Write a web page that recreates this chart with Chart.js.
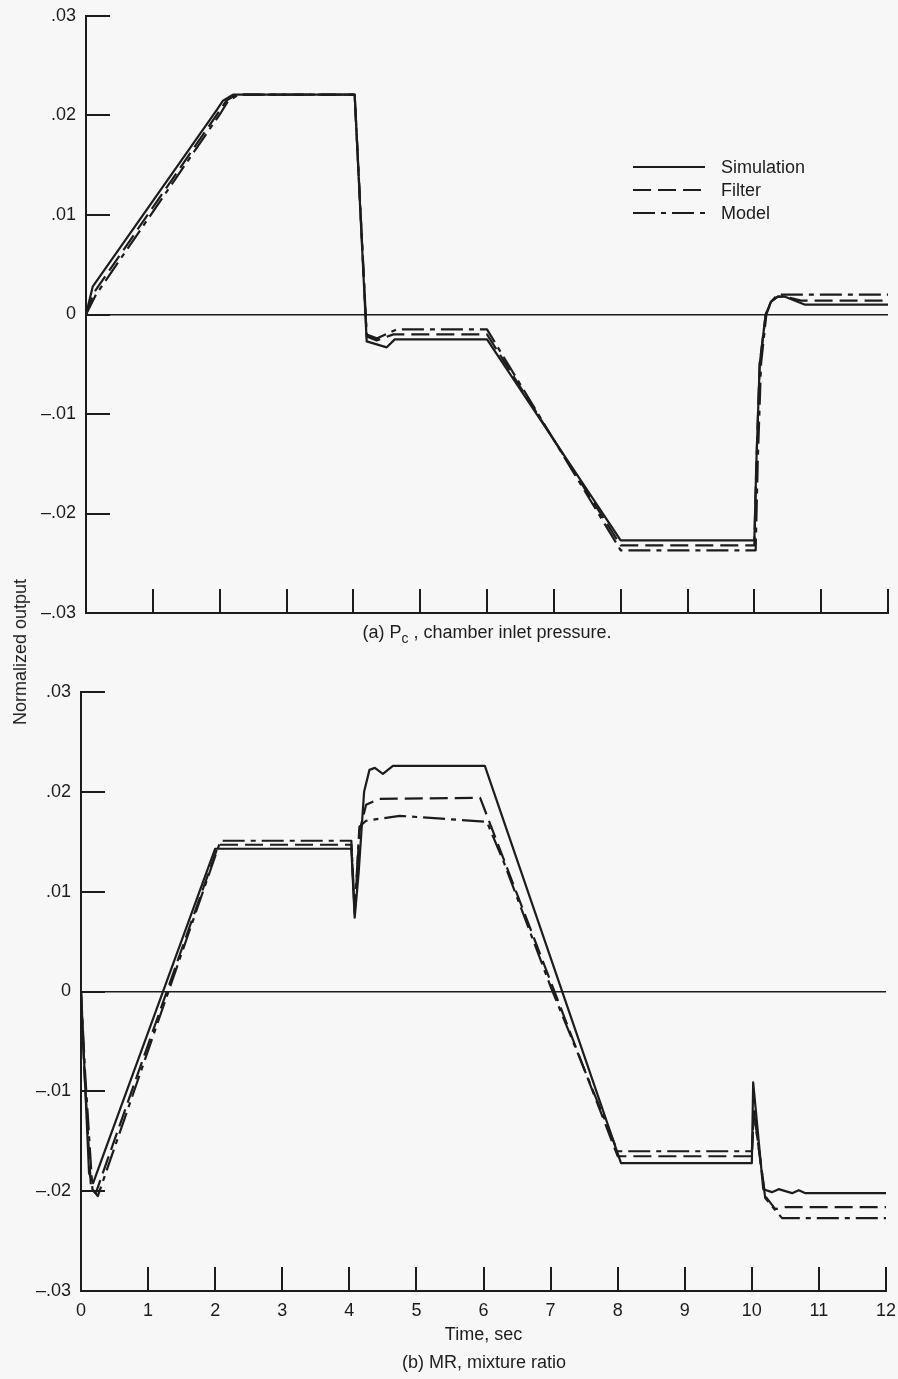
<!DOCTYPE html>
<html><head><meta charset="utf-8">
<script src="https://cdn.jsdelivr.net/npm/chart.js@4.4.0/dist/chart.umd.min.js"></script>
<style>
html,body{margin:0;padding:0;background:#f7f7f7;}
body{width:898px;height:1379px;position:relative;overflow:hidden;font-family:"Liberation Sans",Arial,Helvetica,sans-serif;color:#1e1e1e;}
canvas{position:absolute;left:0;}
#c1{top:0;}
#c2{top:650px;}
.txt{position:absolute;font-size:18px;white-space:nowrap;line-height:20px;}
.txt sub{font-size:14px;vertical-align:-5px;line-height:0;}
</style></head><body>
<canvas id="c1" width="898" height="650"></canvas>
<canvas id="c2" width="898" height="729"></canvas>
<div class="txt" id="ylab" style="left:20px;top:652px;transform:translate(-50%,-50%) rotate(-90deg);">Normalized output</div>
<div class="txt" id="capA" style="left:487px;top:632px;transform:translate(-50%,-50%);">(a) P<sub>c</sub> , chamber inlet pressure.</div>
<div class="txt" id="capB" style="left:484px;top:1362px;transform:translate(-50%,-50%);">(b) MR, mixture ratio</div>
<script>
// ---- axis ticks ----
const timeTicks = [0,1,2,3,4,5,6,7,8,9,10,11,12];
const yTickValues = [-0.03,-0.02,-0.01,0,0.01,0.02,0.03];
const yTickLabels = ['\u2013.03','\u2013.02','\u2013.01','0','.01','.02','.03'];
const seriesNames = ['Simulation','Filter','Model'];

// ---- (a) Pc, chamber inlet pressure ----
const pcSimT = [0,0.1,1.95,2.05,2.2,4.02,4.2,4.5,4.62,6.0,8.0,10.0,10.03,10.08,10.17,10.25,10.35,10.45,10.75,12];
const pcSimV = [0,0.0028,0.0205,0.0215,0.0221,0.0221,-0.0027,-0.0033,-0.0025,-0.0025,-0.0227,-0.0227,-0.015,-0.005,0,0.0013,0.0018,0.0018,0.0010,0.0010];
const pcFilT = [0,0.12,1.99,2.1,2.25,4.02,4.2,4.35,4.6,6.0,8.0,10.0,10.03,10.08,10.17,10.25,10.35,10.45,10.7,12];
const pcFilV = [0,0.0022,0.0204,0.0215,0.0221,0.0221,-0.0022,-0.0026,-0.0020,-0.0020,-0.0232,-0.0232,-0.015,-0.005,0,0.0013,0.0018,0.0018,0.0014,0.0014];
const pcModT = [0,0.15,2.02,2.12,2.28,4.02,4.2,4.35,4.65,6.0,8.0,10.02,10.05,10.1,10.18,10.25,10.35,12];
const pcModV = [0,0.0020,0.0203,0.0214,0.0221,0.0221,-0.0020,-0.0024,-0.0015,-0.0015,-0.0237,-0.0237,-0.015,-0.005,0,0.0013,0.0020,0.0020];

// ---- (b) MR, mixture ratio ----
const mrSimT = [0,0.04,0.12,0.18,2.0,4.03,4.08,4.14,4.22,4.3,4.38,4.5,4.65,6.02,8.05,10.0,10.02,10.17,10.3,10.4,10.6,10.7,10.8,12];
const mrSimV = [0,-0.006,-0.0182,-0.0192,0.0143,0.0143,0.0074,0.012,0.020,0.0222,0.0224,0.0218,0.0226,0.0226,-0.0172,-0.0172,-0.0091,-0.0198,-0.0201,-0.0198,-0.0202,-0.0199,-0.0202,-0.0202];
const mrFilT = [0,0.05,0.15,0.22,2.05,4.03,4.08,4.15,4.25,4.45,5.95,8.0,10.0,10.03,10.2,10.35,10.5,12];
const mrFilV = [0,-0.008,-0.0198,-0.0202,0.0147,0.0147,0.0078,0.016,0.0187,0.0193,0.0194,-0.0165,-0.0165,-0.012,-0.0205,-0.0218,-0.0216,-0.0216];
const mrModT = [0,0.06,0.17,0.25,2.08,4.03,4.08,4.15,4.25,4.75,6.05,6.3,7.0,8.0,10.0,10.03,10.2,10.45,12];
const mrModV = [0,-0.008,-0.0198,-0.0205,0.0151,0.0151,0.0080,0.0165,0.0171,0.0176,0.0170,0.0130,0.0005,-0.0160,-0.0160,-0.012,-0.0207,-0.0227,-0.0227];

const INK = '#1c1c1c';
const FONT = {family:'"Liberation Sans", Arial, Helvetica, sans-serif', size:18};
const dashes = [[], [18,7], [22,6,5,6]];

function pts(t, v){ return t.map((x,i)=>({x:x, y:v[i]})); }
function mkDatasets(list){
  return list.map((p,i)=>({label:seriesNames[i], data:pts(p[0],p[1]), borderColor:INK, borderWidth:2.2,
    borderDash:dashes[i], pointRadius:0, tension:0, fill:false, borderJoinStyle:'round'}));
}

// inward tick marks drawn through the chart's own scales
const inwardTicks = {
  id:'inwardTicks',
  afterDraw(chart){
    const {ctx, chartArea, scales} = chart;
    ctx.save();
    ctx.strokeStyle = INK; ctx.lineWidth = 2;
    ctx.beginPath();
    scales.x.ticks.forEach(t=>{
      if (t.value === 0) return;
      const px = Math.round(scales.x.getPixelForValue(t.value));
      ctx.moveTo(px, chartArea.bottom); ctx.lineTo(px, chartArea.bottom - 24);
    });
    scales.y.ticks.forEach(t=>{
      if (Math.abs(t.value + 0.03) < 1e-9) return;
      const py = Math.round(scales.y.getPixelForValue(t.value));
      ctx.moveTo(chartArea.left, py); ctx.lineTo(chartArea.left + 24, py);
    });
    ctx.stroke();
    ctx.restore();
  }
};

// legend samples drawn inside panel (a)
const panelLegend = {
  id:'panelLegend',
  afterDraw(chart, args, opts){
    if (!opts || !opts.show) return;
    const ctx = chart.ctx;
    ctx.save();
    ctx.strokeStyle = INK; ctx.fillStyle = INK; ctx.lineWidth = 2.2;
    ctx.font = FONT.size + 'px ' + FONT.family;
    ctx.textBaseline = 'middle'; ctx.textAlign = 'left';
    chart.data.datasets.forEach((ds,i)=>{
      const y = opts.y0 + i*opts.dy;
      ctx.setLineDash(ds.borderDash);
      ctx.beginPath(); ctx.moveTo(opts.x0, y); ctx.lineTo(opts.x1, y); ctx.stroke();
      ctx.setLineDash([]);
      ctx.fillText(ds.label, opts.tx, y + 1);
    });
    ctx.restore();
  }
};

function mkOptions(cfg){
  return {
    responsive:false, animation:false, devicePixelRatio:1,
    layout:{padding:cfg.padding},
    plugins:{legend:{display:false}, tooltip:{enabled:false}, panelLegend:cfg.legend},
    scales:{
      x:{type:'linear', min:0, max:12,
        afterBuildTicks:s=>{ s.ticks = timeTicks.map(v=>({value:v})); },
        afterFit:s=>{ s.height = cfg.xHeight; s.paddingLeft = 0; s.paddingRight = 0; },
        grid:{display:false, drawTicks:false},
        border:{display:true, color:INK, width:2},
        ticks:{display:cfg.xLabels, color:INK, font:FONT, padding:9, maxRotation:0, autoSkip:false},
        title:{display:!!cfg.xTitle, text:cfg.xTitle || '', color:INK, font:FONT, padding:{top:0,bottom:cfg.titlePad||0}}
      },
      y:{type:'linear', min:-0.03, max:0.03,
        afterBuildTicks:s=>{ s.ticks = yTickValues.map(v=>({value:v})); },
        afterFit:s=>{ s.width = cfg.yWidth; s.paddingTop = 0; s.paddingBottom = 0; },
        grid:{drawTicks:false, lineWidth:1.5,
          color:c=> (c.tick && Math.abs(c.tick.value) < 1e-9) ? INK : 'rgba(0,0,0,0)'},
        border:{display:true, color:INK, width:2},
        ticks:{color:INK, font:FONT, padding:10,
          callback:v=>{ const i = yTickValues.findIndex(t=>Math.abs(t-v)<1e-9); return i>=0 ? yTickLabels[i] : ''; }}
      }
    }
  };
}

new Chart(document.getElementById('c1'), {
  type:'line',
  data:{datasets:mkDatasets([[pcSimT,pcSimV],[pcFilT,pcFilV],[pcModT,pcModV]])},
  options:mkOptions({padding:{left:0,right:10,top:16,bottom:0}, xHeight:37, yWidth:86, xLabels:false,
    legend:{show:true, x0:633, x1:705, tx:721, y0:167, dy:23}}),
  plugins:[inwardTicks, panelLegend]
});

new Chart(document.getElementById('c2'), {
  type:'line',
  data:{datasets:mkDatasets([[mrSimT,mrSimV],[mrFilT,mrFilV],[mrModT,mrModV]])},
  options:mkOptions({padding:{left:0,right:12,top:42,bottom:0}, xHeight:88, yWidth:81, xLabels:true,
    xTitle:'Time, sec', titlePad:33, legend:{show:false}}),
  plugins:[inwardTicks, panelLegend]
});
</script>
</body></html>
